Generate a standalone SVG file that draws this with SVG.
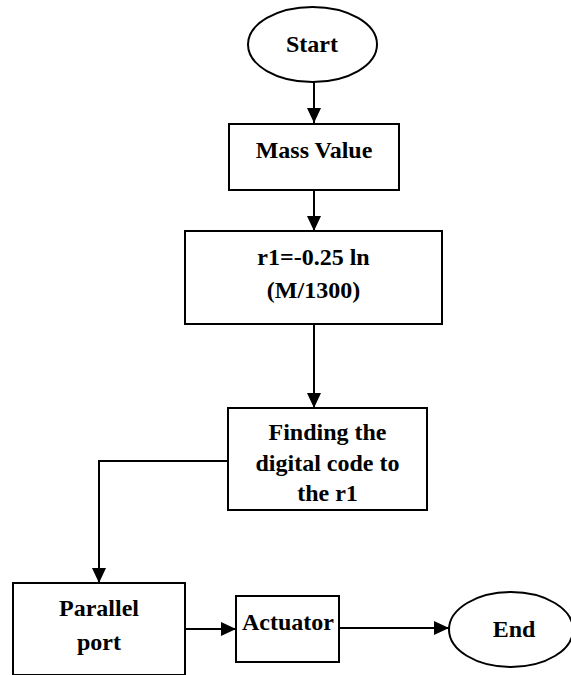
<svg xmlns="http://www.w3.org/2000/svg" width="571" height="675" viewBox="0 0 571 675">
<style>
.shape{fill:#fff;stroke:#000;stroke-width:2}
.lbl{font-family:"Liberation Serif","Times New Roman",serif;font-weight:bold;font-size:24px;text-anchor:middle;fill:#000}
.conn{fill:none;stroke:#000;stroke-width:2}
</style>
<defs>
<marker id="ah" markerUnits="userSpaceOnUse" markerWidth="15" markerHeight="14" refX="15" refY="7" orient="auto">
<path d="M0,0 L15,7 L0,14 z" fill="#000"/>
</marker>
</defs>
<rect width="571" height="675" fill="#fff"/>
<g id="connectors">
<path class="conn" d="M314,82 V123" marker-end="url(#ah)"/>
<path class="conn" d="M314,190 V231" marker-end="url(#ah)"/>
<path class="conn" d="M314,324 V408" marker-end="url(#ah)"/>
<path class="conn" d="M228,461 H99 V583" marker-end="url(#ah)"/>
<path class="conn" d="M185,629 H236" marker-end="url(#ah)"/>
<path class="conn" d="M339,628 H449" marker-end="url(#ah)"/>
</g>
<g id="start">
<ellipse class="shape" cx="312.5" cy="44.5" rx="64.5" ry="37.5"/>
<text class="lbl" x="312" y="52">Start</text>
</g>
<g id="mass">
<rect class="shape" x="229" y="124" width="170" height="66"/>
<text class="lbl" x="314" y="158">Mass Value</text>
</g>
<g id="r1">
<rect class="shape" x="185" y="231" width="257" height="93"/>
<text class="lbl" x="313.5" y="265">r1=-0.25 ln</text>
<text class="lbl" x="313.5" y="298">(M/1300)</text>
</g>
<g id="finding">
<rect class="shape" x="228" y="408" width="199" height="102"/>
<text class="lbl" x="327.5" y="440">Finding the</text>
<text class="lbl" x="327.5" y="471">digital code to</text>
<text class="lbl" x="327.5" y="501">the r1</text>
</g>
<g id="parallel">
<rect class="shape" x="13" y="583" width="172" height="92"/>
<text class="lbl" x="99" y="616">Parallel</text>
<text class="lbl" x="99" y="650">port</text>
</g>
<g id="actuator">
<rect class="shape" x="236" y="596" width="103" height="66"/>
<text class="lbl" x="288" y="630">Actuator</text>
</g>
<g id="end">
<ellipse class="shape" cx="511" cy="629.5" rx="62" ry="37.5"/>
<text class="lbl" x="514" y="637">End</text>
</g>
</svg>
